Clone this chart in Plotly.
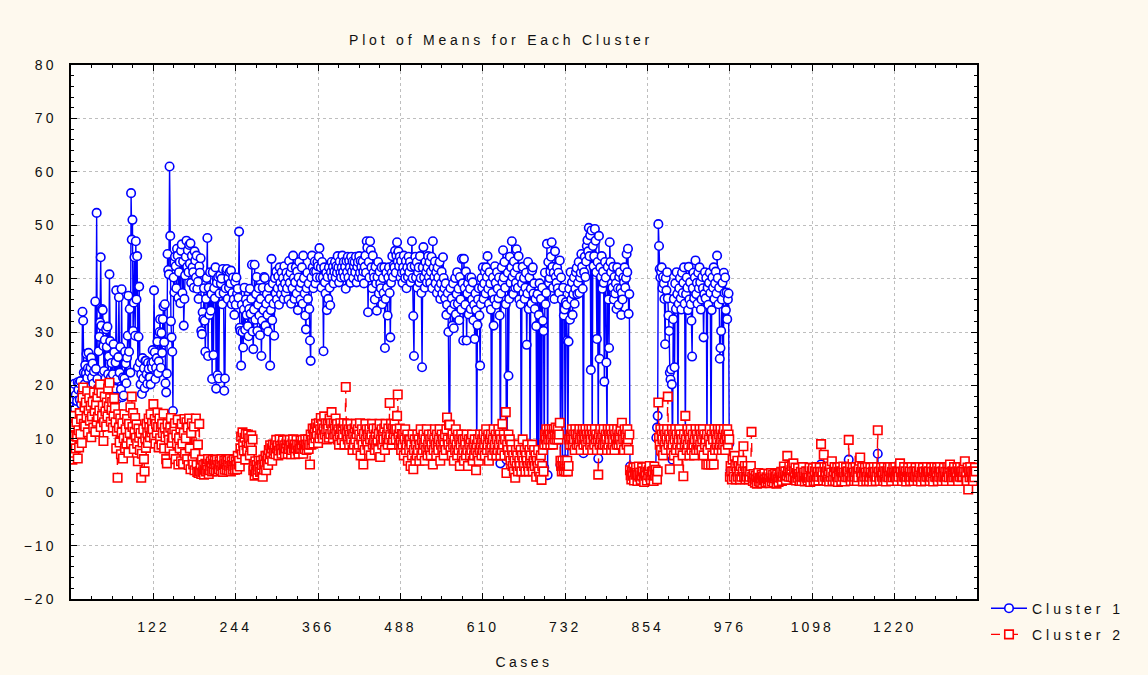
import plotly.graph_objects as go

# Mean value of each case, per cluster (cases are numbered 1..N)
cluster1 = [
    10.4, 14.2, 17.5, 12.1, 20.3, 15.6, 18.2, 13.4, 17.1, 20.6,
    19.2, 20.4, 17.3, 20.8, 16.5, 18.7, 33.8, 32.1, 22.4, 20.2,
    23.8, 22.3, 25.9, 21.4, 23.2, 26.1, 22.5, 19.6, 23.3, 25.2,
    21.5, 24.1, 20.3, 22.6, 18.4, 35.7, 23.1, 52.3, 21.2, 19.5,
    26.4, 29.1, 31.8, 44.0, 31.2, 34.3, 34.1, 27.4, 22.7, 28.5,
    21.3, 30.5, 27.2, 31.0, 22.1, 25.4, 40.8, 28.3, 21.5, 24.2,
    18.3, 22.1, 27.7, 26.2, 19.4, 24.3, 37.8, 21.2, 17.5, 25.3,
    36.5, 22.4, 27.2, 19.3, 38.0, 17.8, 21.5, 18.1, 21.3, 26.3,
    24.1, 20.4, 25.2, 29.3, 36.8, 26.3, 34.3, 22.4, 56.0, 47.3,
    51.0, 30.2, 35.5, 44.0, 29.3, 47.0, 36.1, 44.2, 23.4, 29.1,
    38.5, 24.3, 20.2, 22.1, 18.4, 25.1, 21.3, 23.2, 19.5, 24.6,
    24.6, 22.1, 20.3, 24.2, 23.1, 21.5, 21.5, 20.2, 24.1, 23.3,
    26.6, 24.4, 37.8, 26.2, 21.2, 23.3, 25.1, 28.2, 22.3, 24.5,
    30.0, 32.4, 23.3, 29.8, 26.1, 32.4, 34.8, 28.1, 35.2, 20.4,
    18.7, 22.2, 44.6, 41.6, 40.8, 61.0, 48.0, 32.0, 29.0, 26.3,
    15.2, 40.2, 37.4, 44.1, 42.3, 38.2, 45.6, 44.3, 36.4, 41.2,
    43.1, 35.4, 45.2, 46.4, 37.3, 43.2, 31.2, 36.2, 40.6, 44.1,
    47.1, 42.2, 45.3, 41.2, 46.3, 42.8, 46.6, 39.2, 44.3, 42.1,
    41.2, 38.3, 45.1, 43.4, 40.2, 44.3, 38.1, 39.4, 36.2, 42.3,
    41.1, 43.8, 30.2, 29.6, 33.7, 32.4, 38.2, 32.1, 26.3, 36.2,
    40.1, 47.6, 25.5, 38.3, 33.2, 41.2, 34.0, 37.1, 21.2, 41.2,
    25.7, 38.2, 36.3, 42.1, 19.4, 39.2, 21.9, 40.3, 21.3, 37.2,
    40.6, 39.1, 40.0, 35.2, 41.8, 37.3, 19.0, 21.3, 38.2, 41.5,
    41.8, 36.2, 40.1, 38.3, 41.2, 39.1, 41.5, 35.2, 37.3, 40.2,
    36.1, 33.2, 39.4, 35.1, 40.2, 37.2, 38.1, 36.4, 48.8, 30.8,
    30.2, 23.7, 35.1, 30.0, 27.1, 34.2, 38.3, 30.4, 36.1, 33.2,
    35.3, 31.1, 29.2, 34.3, 38.1, 33.4, 36.2, 42.6, 30.1, 26.8,
    34.2, 42.6, 32.3, 37.1, 40.3, 30.2, 35.1, 38.2, 33.1, 29.4,
    36.2, 25.5, 32.1, 38.3, 34.1, 40.3, 40.1, 31.2, 35.3, 37.1,
    33.2, 30.1, 38.3, 36.2, 23.7, 34.1, 43.7, 32.2, 39.1, 35.3,
    29.3, 40.1, 37.2, 41.3, 36.1, 38.2, 40.4, 35.1, 42.1, 39.2,
    37.1, 41.2, 38.3, 40.1, 36.2, 42.3, 39.1, 37.3, 41.1, 38.2,
    40.2, 36.1, 43.3, 39.2, 41.1, 35.3, 42.1, 38.2, 44.3, 40.1,
    36.2, 39.3, 42.1, 37.2, 41.3, 34.1, 40.2, 43.1, 38.3, 36.1,
    39.2, 42.1, 35.3, 44.3, 40.1, 37.2, 33.1, 30.5, 38.2, 41.1,
    36.2, 39.1, 34.3, 28.4, 24.6, 40.2, 44.3, 42.1, 38.2, 41.3,
    43.2, 39.1, 41.3, 40.2, 43.1, 42.3, 44.1, 45.7, 40.2, 42.1,
    38.3, 43.1, 40.2, 26.4, 42.1, 39.3, 37.2, 41.1, 34.1, 40.3,
    36.2, 42.1, 38.3, 35.0, 41.2, 43.1, 40.3, 42.2, 39.1, 41.3,
    43.1, 40.2, 42.3, 41.1, 44.2, 42.1, 39.3, 43.2, 41.1, 40.2,
    42.1, 44.3, 41.2, 43.1, 40.3, 42.2, 38.1, 43.3, 41.2, 44.1,
    40.2, 43.3, 42.1, 39.2, 44.1, 41.3, 43.2, 40.1, 42.3, 43.1,
    41.2, 44.1, 39.3, 42.2, 43.1, 40.3, 44.2, 41.1, 43.3, 42.2,
    40.1, 43.2, 41.3, 39.1, 42.2, 44.3, 41.1, 47.0, 45.8, 33.7,
    43.1, 40.2, 47.0, 45.3, 42.1, 38.2, 44.3, 41.1, 40.2, 36.1,
    42.2, 39.1, 34.0, 40.3, 43.1, 37.2, 41.3, 39.1, 38.2, 42.1,
    35.2, 40.1, 37.3, 42.1, 27.0, 36.2, 41.1, 38.3, 33.1, 40.2,
    42.1, 37.3, 29.0, 39.2, 41.1, 44.2, 40.3, 42.5, 42.1, 45.2,
    41.1, 44.3, 46.8, 43.2, 45.1, 42.3, 44.1, 40.2, 43.3, 41.1,
    39.2, 42.1, 44.3, 41.2, 40.1, 43.3, 38.2, 42.1, 40.3, 44.1,
    41.2, 43.1, 39.3, 42.2, 47.0, 40.1, 33.0, 25.5, 42.3, 44.1,
    40.2, 43.1, 38.3, 41.2, 42.1, 39.3, 44.2, 40.1, 37.3, 23.4,
    42.1, 45.9, 40.2, 38.3, 43.1, 41.2, 39.3, 42.1, 44.2, 40.3,
    43.1, 39.2, 41.3, 44.1, 38.2, 47.0, 42.1, 40.3, 43.2, 39.1,
    41.2, 37.3, 42.1, 40.2, 38.3, 43.1, 36.2, 39.1, 41.3, 37.2,
    44.0, 40.1, 38.2, 36.3, 39.1, 33.2, 35.1, 37.3, 30.0, 12.4,
    11.8, 38.2, 34.1, 36.3, 31.2, 39.1, 30.7, 35.2, 40.1, 33.3,
    37.1, 41.2, 35.3, 38.1, 32.2, 40.3, 36.1, 34.2, 43.7, 39.1,
    28.4, 43.7, 38.2, 35.1, 41.3, 28.4, 37.2, 39.1, 33.3, 40.2,
    38.1, 34.3, 40.2, 36.1, 39.3, 32.2, 35.1, 28.7, 37.2, 34.1,
    6.2, 31.3, 36.1, 38.2, 33.1, 23.7, 35.2, 40.1, 38.3, 42.1,
    36.2, 39.1, 41.3, 37.2, 42.1, 40.3, 44.2, 38.1, 35.3, 41.2,
    39.1, 34.2, 8.1, 37.3, 40.2, 31.2, 36.1, 42.3, 39.2, 35.1,
    41.2, 38.1, 36.3, 40.2, 33.1, 5.4, 37.2, 42.1, 39.3, 45.3,
    40.2, 43.1, 38.3, 35.2, 6.1, 7.2, 41.1, 21.8, 36.2, 44.1,
    39.2, 42.1, 47.0, 40.3, 37.1, 43.2, 41.1, 38.3, 39.2, 45.5,
    42.1, 38.3, 44.2, 36.1, 40.3, 35.2, 4.8, 39.1, 42.2, 37.3,
    40.1, 36.2, 38.3, 41.1, 27.6, 37.2, 43.1, 34.3, 40.2, 5.6,
    38.1, 35.3, 41.5, 42.1, 37.2, 39.1, 34.3, 36.2, 31.1, 5.2,
    37.1, 4.3, 33.2, 39.1, 5.8, 36.2, 3.1, 38.3, 32.1, 30.2,
    4.6, 41.1, 35.2, 37.3, 46.5, 3.2, 43.1, 39.2, 40.1, 41.3,
    44.1, 46.8, 42.2, 38.3, 41.1, 36.2, 45.1, 40.3, 39.2, 42.1,
    38.2, 41.1, 37.3, 43.4, 5.1, 40.2, 36.1, 4.2, 38.3, 33.1,
    34.2, 6.1, 35.6, 35.1, 28.4, 5.2, 28.2, 38.1, 32.3, 41.2,
    36.1, 39.3, 33.2, 37.1, 40.2, 35.3, 38.1, 41.2, 42.0, 37.1,
    39.2, 43.1, 37.3, 40.2, 41.1, 44.6, 42.2, 38.1, 7.3, 41.2,
    44.1, 40.3, 43.2, 46.1, 47.2, 45.1, 49.5, 44.2, 48.1, 22.9,
    49.0, 8.2, 46.1, 42.3, 44.2, 49.3, 47.1, 41.2, 28.7, 43.1,
    6.3, 48.0, 25.0, 42.1, 40.3, 44.2, 38.1, 41.3, 39.2, 20.7,
    43.1, 40.2, 24.3, 10.1, 42.2, 36.1, 27.0, 46.8, 43.1, 41.2,
    39.1, 38.3, 42.2, 36.1, 40.3, 37.2, 39.1, 34.3, 42.1, 38.2,
    35.1, 40.3, 41.2, 38.1, 33.2, 37.3, 36.1, 40.2, 39.3, 42.1,
    38.3, 40.1, 44.6, 41.2, 45.6, 33.4, 37.1, 4.8, 3.9, 3.1,
    3.8, 3.2, 4.1, 4.6, 3.3, 3.9, 3.1, 2.6, 3.7, 3.2,
    3.3, 3.8, 3.1, 4.4, 3.7, 3.2, 3.9, 3.1, 2.7, 3.6,
    3.1, 3.7, 4.3, 3.2, 3.8, 2.6, 3.2, 3.9, 3.1, 3.7,
    3.2, 3.8, 3.1, 4.2, 3.7, 3.3, 10.2, 12.1, 14.3, 50.2,
    46.1, 41.8, 40.2, 41.3, 42.1, 38.2, 40.3, 39.1, 36.2, 27.7,
    40.1, 37.8, 41.2, 36.3, 33.1, 30.2, 22.4, 21.1, 23.0, 20.2,
    6.1, 32.4, 36.2, 23.4, 39.1, 34.3, 41.2, 37.1, 9.2, 35.3,
    38.2, 40.1, 36.3, 34.2, 41.1, 37.3, 39.2, 42.1, 35.3, 8.3,
    37.1, 40.2, 38.3, 34.1, 42.2, 36.1, 39.3, 35.2, 32.1, 25.4,
    38.2, 41.1, 36.3, 40.2, 43.4, 37.1, 39.2, 35.3, 41.1, 38.2,
    42.1, 39.3, 34.2, 36.1, 40.3, 38.2, 29.0, 37.1, 41.2, 36.3,
    40.1, 7.2, 38.3, 35.1, 39.2, 41.1, 37.3, 6.2, 34.1, 40.2,
    38.3, 42.1, 36.2, 39.1, 41.3, 37.2, 44.3, 40.1, 35.2, 38.3,
    25.0, 27.0, 30.2, 36.1, 39.2, 8.1, 41.1, 37.3, 40.2, 34.1,
    37.4, 32.4, 36.1, 37.2, 9.1, 3.2, 4.1, 3.3, 3.8, 4.6,
    3.6, 3.1, 4.2, 3.8, 2.9, 3.4, 4.1, 3.2, 3.7, 3.3,
    2.8, 3.9, 3.2, 4.3, 3.5, 3.8, 3.1, 3.6, 2.7, 3.4,
    3.2, 3.7, 3.4, 2.8, 3.1, 3.5, 3.9, 4.0, 3.2, 2.7,
    3.3, 2.9, 2.6, 3.2, 2.8, 2.5, 3.1, 3.3, 2.7, 2.9,
    2.6, 3.0, 3.2, 2.7, 2.9, 2.5, 3.3, 2.8, 2.6, 3.1,
    2.9, 2.6, 3.2, 2.8, 2.5, 3.0, 3.3, 2.7, 2.9, 3.2,
    2.6, 2.9, 3.3, 3.0, 2.6, 3.2, 2.8, 2.5, 3.1, 3.3,
    3.0, 3.3, 2.7, 2.9, 3.4, 3.8, 3.1, 3.5, 2.8, 3.2,
    4.4, 3.6, 3.1, 3.9, 3.5, 3.2, 3.6, 3.9, 3.1, 4.2,
    3.5, 3.1, 3.8, 2.8, 3.4, 3.0, 3.7, 3.3, 2.7, 3.1,
    3.4, 2.8, 3.1, 3.7, 3.0, 3.4, 2.7, 3.1, 3.5, 3.0,
    2.8, 3.4, 3.0, 3.8, 2.7, 3.1, 3.5, 3.0, 3.7, 2.8,
    3.1, 3.4, 2.8, 3.7, 3.0, 3.5, 2.8, 3.1, 3.8, 3.4,
    5.2, 3.2, 3.5, 2.9, 4.6, 3.8, 3.1, 3.4, 2.8, 3.7,
    3.1, 3.5, 2.8, 3.8, 3.1, 3.4, 4.1, 2.8, 3.2, 3.5,
    3.8, 2.8, 3.4, 3.1, 3.7, 2.7, 3.4, 3.1, 3.8, 3.4,
    2.8, 3.3, 3.1, 3.8, 3.4, 2.7, 3.1, 3.7, 3.4, 3.1,
    3.4, 6.1, 3.1, 3.7, 2.8, 3.4, 3.1, 3.8, 3.4, 2.8,
    3.1, 3.7, 3.4, 2.8, 3.4, 3.1, 3.8, 4.2, 4.6, 3.4,
    3.1, 3.7, 2.7, 3.4, 3.1, 3.8, 3.4, 2.8, 3.1, 3.7,
    3.4, 2.8, 3.1, 3.7, 3.4, 3.1, 2.7, 3.4, 3.8, 3.1,
    3.4, 2.8, 3.1, 3.7, 7.2, 3.4, 3.1, 2.8, 3.4, 3.7,
    3.1, 3.4, 2.8, 3.7, 3.1, 3.4, 2.8, 3.4, 3.1, 3.7,
    3.1, 3.4, 3.8, 3.1, 2.7, 3.4, 3.1, 3.7, 3.4, 3.1,
    3.7, 3.1, 3.4, 2.8, 3.4, 3.1, 3.7, 4.1, 3.4, 3.1,
    2.8, 3.4, 3.1, 3.7, 3.1, 3.4, 2.8, 3.1, 3.4, 3.7,
    3.1, 3.4, 2.8, 3.1, 3.7, 3.4, 3.1, 2.8, 3.4, 3.1,
    3.7, 3.1, 3.4, 2.8, 3.1, 3.4, 3.7, 3.1, 2.8, 3.4,
    3.1, 3.7, 3.4, 3.1, 2.8, 3.4, 3.1, 3.7, 3.4, 3.1,
    3.4, 2.8, 3.1, 3.7, 3.4, 3.1, 2.8, 3.4, 3.7, 3.1,
    3.4, 3.1, 3.7, 2.8, 3.4, 3.1, 3.7, 3.4, 3.1, 2.8,
    3.4, 3.1, 3.7, 3.1, 3.4, 2.8, 3.1, 3.7, 3.4, 3.1,
    3.7, 4.1, 3.1, 3.4, 2.8, 3.4, 3.1, 3.7, 3.4, 3.1,
    3.4, 3.1, 3.7, 2.8, 3.4, 3.1, 3.7, 3.4, 3.1, 3.4,
    3.1, 3.7, 3.4, 4.2, 3.1, 3.4, 2.8, 3.7, 2.2, 3.4,
    3.1, 3.7, 3.4, 3.1, 3.4, 2.8, 3.4, 3.1, 3.7, 3.4,
]

cluster2 = [
    9.2, 6.1, 12.3, 14.3, 7.4, 10.5, 8.2, 13.1, 10.4, 6.3,
    11.6, 8.4, 14.8, 10.9, 13.7, 9.2, 17.7, 19.6, 12.8, 15.9,
    12.3, 16.8, 14.1, 18.9, 11.2, 15.3, 17.6, 13.4, 16.2, 10.3,
    14.2, 16.9, 12.1, 18.7, 15.2, 11.3, 16.4, 13.2, 17.8, 14.1,
    19.1, 15.3, 20.2, 12.2, 18.6, 14.3, 16.2, 9.6, 13.1, 17.9,
    15.1, 12.3, 16.8, 14.2, 19.4, 16.1, 20.5, 17.6, 13.2, 15.4,
    16.9, 12.1, 14.3, 17.6, 15.8, 13.1, 8.2, 11.4, 2.7, 14.6,
    12.1, 9.3, 13.8, 7.1, 11.2, 12.9, 6.3, 10.1, 14.6, 8.2,
    11.8, 9.1, 13.7, 10.2, 7.4, 12.8, 11.1, 15.9, 9.2, 17.9,
    12.2, 14.8, 8.1, 11.3, 13.9, 10.2, 12.7, 9.1, 5.8, 11.9,
    10.2, 7.9, 11.1, 2.7, 7.2, 9.3, 11.8, 6.2, 3.9, 10.1,
    8.3, 12.8, 11.1, 9.2, 13.8, 12.1, 10.3, 14.6, 11.2, 12.9,
    11.8, 16.5, 10.2, 13.7, 9.1, 12.8, 11.1, 14.9, 12.2, 8.4,
    13.8, 10.1, 12.2, 8.9, 12.8, 11.1, 14.7, 8.2, 12.1, 10.3,
    6.2, 5.4, 12.8, 11.1, 9.8, 8.2, 12.1, 13.9, 9.2, 11.1,
    10.2, 7.1, 11.8, 12.9, 6.2, 10.8, 9.1, 13.6, 5.2, 10.1,
    8.2, 11.9, 5.8, 12.8, 9.1, 5.3, 11.1, 13.7, 7.2, 10.1,
    13.1, 6.2, 12.1, 5.1, 13.8, 8.2, 4.3, 11.1, 12.9, 6.1,
    5.2, 12.3, 4.1, 7.2, 13.8, 5.1, 3.8, 8.9, 3.6, 12.8,
    3.9, 5.2, 3.4, 6.1, 3.8, 5.1, 3.3, 4.2, 5.3, 3.9,
    5.1, 4.2, 6.2, 3.4, 5.3, 4.1, 5.8, 4.9, 3.9, 6.1,
    4.2, 5.3, 5.9, 4.1, 5.2, 6.1, 3.9, 5.1, 4.3, 5.8,
    5.2, 4.1, 6.2, 4.9, 3.8, 5.1, 5.9, 4.2, 5.3, 6.1,
    4.2, 5.9, 5.1, 4.1, 6.2, 4.9, 3.9, 5.8, 5.1, 4.2,
    6.1, 4.9, 4.2, 5.8, 5.1, 4.3, 6.8, 5.2, 5.9, 4.8,
    8.2, 10.4, 7.1, 11.2, 9.1, 7.8, 10.2, 6.1, 10.9, 8.8,
    7.9, 10.8, 9.2, 10.1, 6.9, 8.8, 10.6, 7.8, 9.9, 4.1,
    4.9, 3.1, 5.8, 3.9, 5.1, 3.3, 4.2, 5.9, 4.8, 3.8,
    5.9, 3.9, 5.1, 2.9, 6.1, 4.2, 5.2, 6.8, 4.1, 5.9,
    6.8, 5.1, 7.9, 6.2, 8.8, 7.1, 8.2, 5.9, 8.9, 7.2,
    7.8, 8.9, 7.1, 9.8, 8.2, 8.8, 6.9, 7.8, 9.9, 8.7,
    8.1, 7.2, 8.9, 9.7, 7.9, 8.8, 7.1, 8.2, 9.1, 9.8,
    7.2, 8.9, 8.1, 9.8, 8.8, 7.1, 7.9, 9.1, 9.9, 8.2,
    8.9, 7.1, 8.2, 9.8, 8.9, 7.8, 7.2, 8.8, 8.1, 9.7,
    8.2, 8.9, 9.8, 7.2, 8.8, 8.1, 9.9, 8.9, 7.9, 8.8,
    9.9, 8.1, 8.9, 5.2, 10.8, 8.9, 9.8, 11.9, 9.1, 10.8,
    11.9, 10.1, 12.8, 10.9, 12.1, 9.2, 12.9, 10.1, 11.8, 13.9,
    10.9, 12.8, 10.1, 11.9, 14.2, 10.8, 12.9, 11.8, 9.9, 12.8,
    11.9, 10.2, 13.8, 10.9, 12.9, 15.0, 11.8, 10.1, 12.9, 10.8,
    11.9, 13.8, 10.9, 12.8, 9.9, 11.8, 8.9, 10.8, 12.9, 11.8,
    9.8, 11.9, 10.8, 12.9, 8.9, 11.8, 19.7, 10.9, 12.8, 9.9,
    11.8, 8.9, 10.8, 12.8, 9.9, 11.8, 7.9, 10.9, 8.9, 11.9,
    9.9, 12.8, 10.9, 7.9, 11.8, 8.9, 10.8, 12.9, 6.9, 9.9,
    11.8, 8.9, 5.2, 10.9, 7.9, 12.8, 9.9, 11.8, 8.9, 10.8,
    7.9, 11.8, 9.9, 6.9, 10.8, 12.8, 8.9, 11.9, 9.8, 7.9,
    10.8, 8.9, 11.9, 9.8, 7.9, 10.9, 12.8, 6.6, 9.9, 11.8,
    8.9, 10.8, 9.9, 11.9, 7.9, 12.8, 9.9, 10.8, 8.9, 11.9,
    9.9, 16.7, 10.8, 12.8, 8.9, 11.9, 9.8, 10.9, 12.8, 11.8,
    9.9, 11.8, 14.3, 18.3, 10.8, 8.9, 11.9, 9.8, 7.9, 10.9,
    8.9, 10.8, 6.9, 9.9, 11.8, 7.9, 8.9, 10.8, 5.9, 9.9,
    7.9, 9.8, 4.9, 8.9, 6.9, 10.8, 4.3, 7.9, 9.9, 5.9,
    8.9, 6.9, 10.8, 7.9, 9.9, 5.9, 8.9, 11.8, 6.9, 9.8,
    7.9, 10.8, 8.9, 5.9, 9.9, 7.9, 11.8, 6.9, 8.9, 10.8,
    7.9, 9.9, 6.9, 8.9, 10.8, 5.2, 7.9, 9.9, 11.8, 8.9,
    6.9, 10.8, 8.9, 7.9, 9.9, 11.8, 5.9, 8.9, 10.8, 7.9,
    9.9, 6.9, 8.9, 10.8, 7.9, 11.8, 14.0, 9.9, 8.9, 12.6,
    12.6, 7.9, 9.9, 6.9, 10.8, 8.9, 5.9, 9.9, 7.9, 11.8,
    8.9, 6.9, 10.8, 7.9, 9.9, 4.9, 8.9, 10.8, 6.9, 9.9,
    7.9, 5.9, 9.9, 8.9, 6.9, 10.8, 7.9, 4.9, 9.9, 8.9,
    6.9, 9.9, 7.9, 10.8, 5.9, 8.9, 6.9, 9.9, 7.9, 4.1,
    8.9, 6.9, 9.9, 5.9, 7.9, 10.8, 8.9, 6.9, 9.9, 7.9,
    10.8, 8.9, 6.9, 9.9, 11.8, 7.9, 8.9, 10.8, 5.9, 9.9,
    7.9, 10.8, 8.9, 6.9, 9.9, 11.8, 7.9, 8.9, 10.8, 6.9,
    9.9, 7.9, 11.8, 8.9, 10.8, 6.9, 9.9, 7.9, 12.8, 8.9,
    10.8, 6.9, 9.9, 15.0, 3.6, 8.9, 7.9, 10.8, 6.9, 9.9,
    5.9, 8.9, 7.9, 4.9, 6.9, 3.9, 5.9, 2.7, 7.9, 4.9,
    6.9, 3.9, 8.9, 5.9, 4.9, 7.9, 3.9, 6.9, 9.9, 5.9,
    4.9, 7.9, 3.9, 6.9, 5.9, 8.9, 4.9, 3.9, 7.9, 5.9,
    6.9, 4.9, 8.9, 3.9, 5.9, 7.9, 4.9, 6.9, 2.9, 5.9,
    4.9, 7.9, 3.9, 5.9, 2.9, 6.9, 2.3, 4.9, 7.9, 3.9,
    8.9, 10.8, 9.9, 11.8, 8.9, 10.8, 9.9, 11.8, 10.8, 8.9,
    9.9, 11.8, 10.8, 8.9, 11.8, 9.9, 10.8, 12.1, 9.9, 10.8,
    11.8, 9.9, 10.8, 13.0, 5.9, 4.9, 3.9, 5.9, 4.9, 4.1,
    4.9, 5.9, 3.9, 4.9, 5.9, 3.9, 4.9, 9.9, 8.9, 10.8,
    9.9, 11.8, 8.9, 10.8, 9.9, 7.9, 11.8, 10.8, 8.9, 9.9,
    10.8, 8.9, 11.8, 9.9, 7.9, 10.8, 9.9, 11.8, 8.9, 10.8,
    9.9, 11.8, 8.9, 10.8, 7.9, 9.9, 11.8, 10.8, 8.9, 9.9,
    11.8, 7.9, 10.8, 9.9, 8.9, 11.8, 9.9, 10.8, 7.9, 9.9,
    3.3, 10.8, 8.9, 11.8, 9.9, 7.9, 10.8, 8.9, 11.8, 9.9,
    8.9, 10.8, 9.9, 7.9, 11.8, 8.9, 10.8, 9.9, 11.8, 7.9,
    10.8, 8.9, 9.9, 11.8, 7.9, 10.8, 9.9, 8.9, 11.8, 9.9,
    8.9, 10.8, 9.9, 11.8, 8.9, 13.0, 10.8, 9.9, 7.9, 11.8,
    9.9, 10.8, 8.9, 11.8, 9.9, 7.9, 10.8, 4.1, 3.2, 2.4,
    3.9, 3.1, 4.6, 2.2, 3.8, 3.3, 4.7, 3.6, 2.1, 3.2,
    4.8, 2.9, 3.7, 2.3, 3.1, 4.6, 3.9, 2.8, 1.9, 3.7,
    3.1, 4.7, 2.2, 3.8, 3.2, 4.1, 4.9, 2.9, 2.3, 3.8,
    3.2, 3.9, 2.1, 4.8, 3.1, 4.2, 3.3, 2.4, 3.9, 16.8,
    10.2, 8.9, 11.8, 7.9, 10.8, 9.9, 6.9, 11.8, 8.9, 10.8,
    7.9, 9.9, 11.8, 17.9, 8.9, 10.8, 4.3, 9.9, 7.9, 11.8,
    8.9, 10.8, 6.9, 9.9, 11.8, 7.9, 10.8, 8.9, 5.9, 9.9,
    11.8, 7.9, 10.8, 8.9, 9.9, 6.9, 3.0, 10.8, 8.9, 14.3,
    9.9, 7.9, 11.8, 8.9, 10.8, 6.9, 9.9, 11.8, 7.9, 8.9,
    10.8, 8.9, 6.9, 9.9, 11.8, 7.9, 10.8, 8.9, 9.9, 7.9,
    11.8, 8.9, 10.8, 7.9, 9.9, 11.8, 6.9, 10.8, 8.9, 9.9,
    5.2, 10.8, 7.9, 5.2, 9.9, 11.8, 8.9, 5.2, 10.8, 6.9,
    9.9, 5.2, 11.8, 7.9, 10.8, 8.9, 9.9, 11.8, 7.9, 10.8,
    8.9, 11.8, 9.9, 7.9, 10.8, 8.9, 11.8, 9.9, 7.9, 10.8,
    9.9, 11.8, 8.9, 10.8, 9.9, 2.9, 4.9, 3.9, 2.4, 6.1,
    3.9, 2.9, 6.8, 4.9, 2.4, 3.9, 5.9, 2.9, 4.9, 3.9,
    2.4, 4.9, 2.9, 5.9, 3.9, 8.6, 2.9, 4.9, 2.4, 3.9,
    2.9, 4.9, 3.9, 2.4, 2.9, 3.9, 4.9, 11.3, 2.9, 2.1,
    3.4, 2.6, 1.8, 3.1, 2.4, 1.6, 2.8, 3.6, 2.0, 2.7,
    1.9, 2.6, 3.3, 1.7, 2.9, 2.2, 3.5, 2.4, 1.8, 2.8,
    2.6, 1.9, 3.4, 2.5, 1.7, 2.8, 3.6, 2.0, 2.7, 3.3,
    1.8, 2.6, 3.5, 2.9, 1.6, 3.3, 2.4, 1.9, 2.8, 3.6,
    2.7, 3.8, 2.1, 2.9, 3.6, 4.8, 2.9, 3.9, 2.3, 3.1,
    6.8, 3.9, 2.9, 4.8, 3.7, 2.9, 4.1, 4.9, 2.8, 5.4,
    3.9, 2.8, 4.6, 2.2, 3.6, 2.7, 4.5, 3.4, 2.1, 2.9,
    3.8, 2.1, 2.9, 4.7, 2.8, 3.7, 2.0, 2.9, 3.9, 2.7,
    2.2, 3.8, 2.7, 4.6, 1.9, 2.9, 3.9, 2.8, 4.5, 2.1,
    2.8, 3.9, 2.1, 4.7, 2.9, 3.8, 2.2, 2.9, 4.6, 3.8,
    9.0, 2.9, 3.8, 2.2, 7.0, 4.7, 2.9, 3.8, 2.1, 4.6,
    2.8, 3.9, 2.0, 4.8, 2.9, 3.7, 5.8, 2.1, 2.9, 3.9,
    4.7, 2.1, 3.8, 2.9, 4.6, 1.9, 3.8, 2.8, 4.7, 3.9,
    2.1, 3.8, 2.9, 4.8, 3.7, 2.0, 2.9, 4.6, 3.8, 2.8,
    3.9, 9.8, 2.8, 4.7, 2.1, 3.8, 2.9, 4.6, 3.7, 2.1,
    2.9, 4.7, 3.8, 2.1, 3.9, 2.8, 4.6, 5.9, 6.5, 3.8,
    2.9, 4.7, 2.0, 3.8, 2.9, 4.6, 3.7, 2.1, 2.9, 4.7,
    3.8, 2.1, 2.9, 4.6, 3.7, 2.8, 2.0, 3.8, 4.7, 2.9,
    3.8, 2.1, 2.9, 4.7, 11.6, 3.8, 2.8, 2.1, 3.9, 4.6,
    2.9, 3.8, 2.1, 4.7, 2.8, 3.9, 2.0, 3.8, 2.9, 4.6,
    2.8, 3.9, 4.7, 2.9, 2.1, 3.8, 2.8, 4.6, 3.7, 2.9,
    4.7, 2.8, 3.9, 2.1, 3.8, 2.9, 4.6, 5.4, 3.8, 2.8,
    2.1, 3.8, 2.9, 4.7, 2.8, 3.9, 2.0, 2.9, 3.8, 4.6,
    2.8, 3.9, 2.1, 2.9, 4.7, 3.8, 2.8, 2.1, 3.9, 2.9,
    4.6, 2.8, 3.9, 2.1, 2.9, 3.8, 4.7, 2.8, 2.0, 3.8,
    2.9, 4.6, 3.8, 2.8, 2.1, 3.9, 2.9, 4.7, 3.8, 2.8,
    3.9, 2.1, 2.9, 4.6, 3.8, 2.8, 2.0, 3.9, 4.7, 2.9,
    3.8, 2.8, 4.6, 2.1, 3.9, 2.9, 4.7, 3.8, 2.8, 2.1,
    3.9, 2.9, 4.6, 2.8, 3.8, 2.1, 2.9, 4.7, 3.8, 2.8,
    4.6, 5.2, 2.9, 3.8, 2.1, 3.9, 2.8, 4.7, 3.8, 2.9,
    3.8, 2.8, 4.6, 2.1, 3.9, 2.9, 4.7, 3.8, 2.8, 3.9,
    2.9, 4.7, 3.8, 5.8, 2.9, 3.8, 2.1, 4.6, 0.5, 3.9,
    2.8, 4.7, 3.8, 2.9, 3.9, 2.1, 3.9, 2.8, 4.6, 3.9,
]

x_tick_values = [122, 244, 366, 488, 610, 732, 854, 976, 1098, 1220]
x_range = [0, 1342]
y_range = [-20, 80]

cases1 = list(range(1, len(cluster1) + 1))
cases2 = list(range(1, len(cluster2) + 1))

FONT = "Liberation Sans, Arial, Helvetica, sans-serif"
TEXT = "#111111"
BLUE = "#0000FF"
RED = "#FF0000"

fig = go.Figure()
fig.add_trace(go.Scatter(
    x=cases1, y=cluster1, name="Cluster 1", mode="lines+markers",
    legendgroup="c1",
    line=dict(color=BLUE, width=1.4, simplify=False),
    marker=dict(symbol="circle", size=8.5, color="white",
                line=dict(color=BLUE, width=1.6)),
))
fig.add_trace(go.Scatter(
    x=cases2, y=cluster2, name="Cluster 2", mode="lines+markers",
    legendgroup="c2",
    line=dict(color=RED, width=1.4, dash="dash", simplify=False),
    marker=dict(symbol="square", size=8.5, color="white",
                line=dict(color=RED, width=1.6)),
))

axis_common = dict(
    ticks="inside", ticklen=6, tickwidth=1, tickcolor="black",
    showline=True, linecolor="black", linewidth=1.5, mirror="allticks",
    showgrid=True, gridcolor="#BEBEBE", griddash="dot", gridwidth=1,
    zeroline=False, automargin=False,
    tickfont=dict(family=FONT, size=14, color=TEXT),
)

fig.update_xaxes(
    range=x_range, tickmode="array", tickvals=x_tick_values,
    ticklabelstandoff=14,
    title=dict(text="Cases", font=dict(family=FONT, size=14, color=TEXT),
               standoff=24),
    minor=dict(tickmode="linear", tick0=0, dtick=30.5, ticks="inside",
               ticklen=3, tickcolor="black", showgrid=False),
    **axis_common,
)
fig.update_yaxes(
    range=y_range, tickmode="linear", tick0=-20, dtick=10,
    ticklabelstandoff=10,
    minor=dict(tickmode="linear", tick0=0, dtick=2, ticks="inside",
               ticklen=3, tickcolor="black", showgrid=False),
    **axis_common,
)

fig.update_layout(
    width=1148, height=675,
    margin=dict(l=71, r=171, t=65, b=76),
    paper_bgcolor="#FEF9EE", plot_bgcolor="white",
    font=dict(family=FONT, size=14, color=TEXT),
    title=dict(text="Plot of Means for Each Cluster", x=501 / 1148,
               xanchor="center", y=1 - 40 / 675, yanchor="middle",
               font=dict(family=FONT, size=14, color=TEXT)),
    showlegend=True,
    legend=dict(x=(986 - 71) / 906, xanchor="left", y=0.012, yanchor="top",
                tracegroupgap=5, itemwidth=36, bgcolor="rgba(0,0,0,0)",
                font=dict(family=FONT, size=14, color=TEXT)),
)

# Wider letter spacing for all labels; let the legend text run past its box
spacing_css = (
    "var s=document.createElement('style');"
    "s.innerHTML='.xtick text,.ytick text{letter-spacing:3px}"
    ".gtitle{letter-spacing:3.8px}.xtitle{letter-spacing:3.5px}"
    ".legendtext{letter-spacing:4px}"
    ".legend .scrollbox,.legend{clip-path:none !important}';"
    "document.head.appendChild(s);"
)
fig.write_html("out.html", post_script=spacing_css)
